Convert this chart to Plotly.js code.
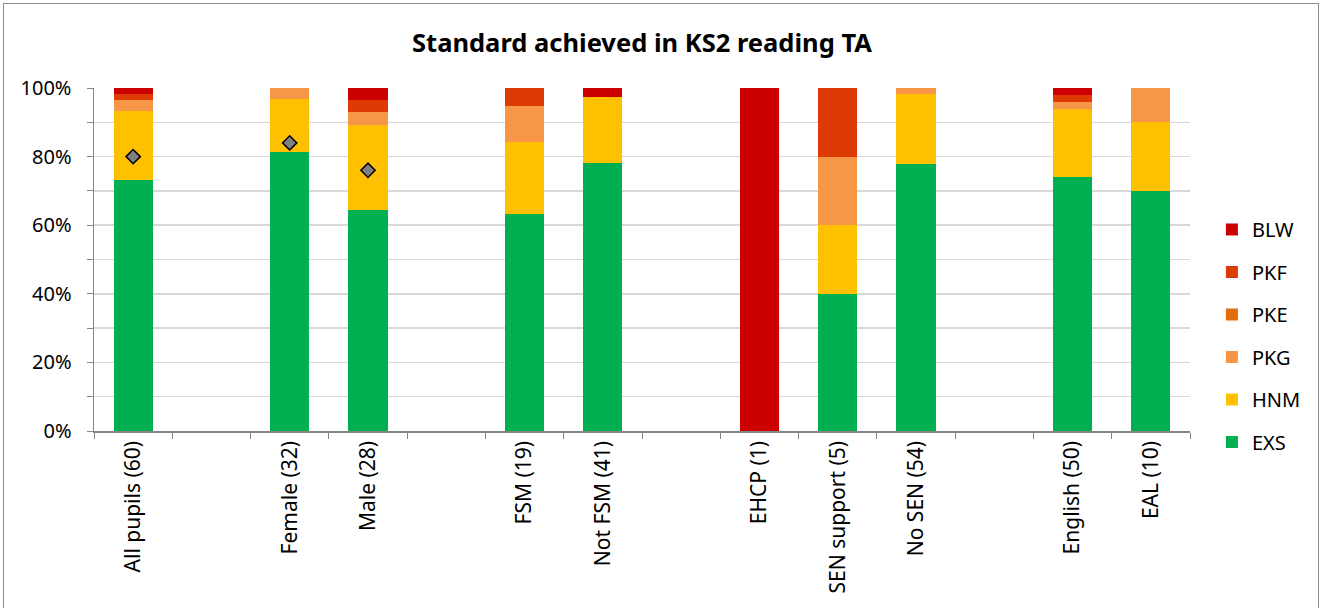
<!DOCTYPE html>
<html>
<head>
<meta charset="utf-8">
<script src="https://cdn.plot.ly/plotly-3.0.1.min.js"></script>
<style>
  html, body { margin: 0; padding: 0; background: #fff; }
  #frame { position: absolute; left: 3px; top: 3px; width: 1316px; height: 610px; border: 1px solid #8c8c8c; box-sizing: border-box; }
  #chart { position: absolute; left: 0; top: 0; width: 1324px; height: 608px; }
</style>
</head>
<body>
<div id="frame"></div>
<div id="chart"></div>
<script>
// Categories (zero-width-space entries are empty gap slots)
const categories = [
  "All pupils (60)", "\u200b", "Female (32)", "Male (28)", "\u200b\u200b",
  "FSM (19)", "Not FSM (41)", "\u200b\u200b\u200b",
  "EHCP (1)", "SEN support (5)", "No SEN (54)", "\u200b\u200b\u200b\u200b",
  "English (50)", "EAL (10)"
];

// Percent of pupils at each standard
const EXS = [73.3, null, 81.3, 64.3, null, 63.2, 78.0, null, 0, 40, 77.8, null, 74, 70];
const HNM = [20.0, null, 15.6, 25.0, null, 21.1, 19.5, null, 0, 20, 20.4, null, 20, 20];
const PKG = [3.3, null, 3.1, 3.6, null, 10.5, 0, null, 0, 20, 1.9, null, 2, 10];
const PKE = [0, null, 0, 0, null, 0, 0, null, 0, 0, 0, null, 0, 0];
const PKF = [1.7, null, 0, 3.6, null, 5.3, 0, null, 0, 20, 0, null, 2, 0];
const BLW = [1.7, null, 0, 3.6, null, 0, 2.4, null, 100, 0, 0, null, 2, 0];

// Comparison markers (diamonds)
const comparison = [80, null, 84, 76, null, null, null, null, null, null, null, null, null, null];

const seriesNames = ["EXS", "HNM", "PKG", "PKE", "PKF", "BLW"];
const seriesValues = [EXS, HNM, PKG, PKE, PKF, BLW];
const seriesColors = ["#00B050", "#FFC000", "#F79646", "#E36C0A", "#DD3A04", "#CC0000"];

const traces = seriesNames.map((name, i) => ({
  type: "bar",
  name: name,
  x: categories,
  y: seriesValues[i],
  marker: { color: seriesColors[i], line: { width: 0 } },
  legendgroup: name,
  legendrank: seriesNames.length - i,
  hoverinfo: "x+y+name"
}));

traces.push({
  type: "scatter",
  mode: "markers",
  x: categories,
  y: comparison,
  showlegend: false,
  marker: { symbol: "diamond", size: 11, color: "#808080", line: { color: "#000", width: 1.5 } }
});

const font = "'Noto Sans', 'Open Sans', sans-serif";

const layout = {
  width: 1324,
  height: 608,
  barmode: "stack",
  bargap: 0.5,
  paper_bgcolor: "rgba(0,0,0,0)",
  plot_bgcolor: "#fff",
  margin: { l: 94, r: 134, t: 88, b: 177 },
  font: { family: font, size: 20, color: "#000" },
  title: {
    text: "<b>Standard achieved in KS2 reading TA</b>",
    font: { family: font, size: 25.5, color: "#000" },
    x: 0.5, xref: "paper", xanchor: "center",
    y: 1 - 43 / 608, yref: "container", yanchor: "middle"
  },
  xaxis: {
    type: "category",
    categoryorder: "array",
    categoryarray: categories,
    range: [-0.5, categories.length - 0.5],
    tickangle: -90,
    tickson: "boundaries",
    ticks: "outside",
    ticklen: 6,
    tickcolor: "#868686",
    showline: true,
    linecolor: "#868686",
    linewidth: 1.5,
    showgrid: false,
    tickfont: { family: font, size: 21, color: "#000" },
    fixedrange: true
  },
  yaxis: {
    range: [0, 100],
    dtick: 20,
    ticksuffix: "%",
    ticks: "outside",
    ticklen: 6,
    tickcolor: "#868686",
    ticklabelstandoff: 11,
    showline: true,
    linecolor: "#868686",
    linewidth: 1.5,
    gridcolor: "#d9d9d9",
    gridwidth: 1.5,
    minor: {
      dtick: 10,
      ticks: "outside",
      ticklen: 6,
      tickcolor: "#868686",
      showgrid: true,
      gridcolor: "#d9d9d9",
      gridwidth: 1.5
    },
    zeroline: false,
    tickfont: { family: font, size: 20, color: "#000" },
    fixedrange: true
  },
  legend: {
    x: 1.02, xanchor: "left",
    y: 0.277, yanchor: "middle",
    traceorder: "grouped",
    tracegroupgap: 13.5,
    font: { family: font, size: 20, color: "#000" },
    itemwidth: 30,
    bgcolor: "rgba(0,0,0,0)"
  },
  showlegend: true
};

Plotly.newPlot("chart", traces, layout, { displayModeBar: false, staticPlot: true });
</script>
</body>
</html>
